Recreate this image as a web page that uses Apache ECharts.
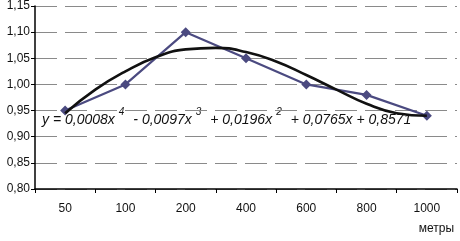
<!DOCTYPE html>
<html>
<head>
<meta charset="utf-8">
<script src="https://cdn.jsdelivr.net/npm/echarts@6/dist/echarts.min.js"></script>
<style>
  html, body { margin: 0; padding: 0; background: #fff; }
  #chart { width: 460px; height: 241px; }
</style>
</head>
<body>
<div id="chart"></div>
<script>
// distances, metres
const categories = ['50', '100', '200', '400', '600', '800', '1000']
// measured values
const values = [0.95, 1.00, 1.10, 1.05, 1.00, 0.98, 0.94]
// polynomial trend at half-category steps (x = 1..7)
const trendX = [1, 1.5, 2, 2.5, 3, 3.5, 4, 4.5, 5, 5.5, 6, 6.5, 7]
const trendY = [0.945, 0.99, 1.025, 1.052, 1.067, 1.07, 1.062, 1.044, 1.018, 0.99, 0.963, 0.945, 0.94]
const yTicks = ['0,80', '0,85', '0,90', '0,95', '1,00', '1,05', '1,10', '1,15']

const chart = echarts.init(document.getElementById('chart'))
const font = '"Liberation Sans", Arial, sans-serif'

chart.setOption({
  animation: false,
  grid: { left: 35, right: 3, top: 5, bottom: 52 },
  xAxis: [
    {
      type: 'category',
      data: categories,
      boundaryGap: true,
      axisLine: { lineStyle: { color: '#000', width: 1.5 } },
      axisTick: { show: true, inside: false, length: 4, lineStyle: { color: '#000' } },
      axisLabel: { color: '#111', fontSize: 12, fontFamily: font, margin: 14 },
      name: 'метры',
      nameLocation: 'end',
      nameGap: 0,
      nameTextStyle: { color: '#111', fontSize: 12, fontFamily: font, align: 'right', verticalAlign: 'top', padding: [34, 3, 0, 0] },
    },
    {
      type: 'value',
      min: 0.5,
      max: 7.5,
      show: false,
    },
  ],
  yAxis: {
    type: 'value',
    min: 0.8,
    max: 1.15,
    interval: 0.05,
    axisLine: { show: true, lineStyle: { color: '#000', width: 1.5 } },
    axisTick: { show: true, length: 4, lineStyle: { color: '#000' } },
    axisLabel: {
      color: '#111', fontSize: 12, fontFamily: font, margin: 5,
      formatter: v => yTicks[Math.round((v - 0.8) / 0.05)],
    },
    splitLine: { lineStyle: { color: '#8a8a8a', width: 1, type: [22, 8] } },
  },
  series: [
    {
      type: 'line',
      data: values,
      symbol: 'diamond',
      symbolSize: 10,
      itemStyle: { color: '#4b4a80' },
      lineStyle: { color: '#4b4a80', width: 2.2 },
      z: 2,
    },
    {
      type: 'line',
      xAxisIndex: 1,
      data: trendX.map((x, i) => [x, trendY[i]]),
      smooth: true,
      symbol: 'none',
      lineStyle: { color: '#111', width: 2.6 },
      z: 3,
    },
  ],
  graphic: [
    {
      type: 'text',
      left: 42,
      top: 107,
      style: {
        text: '{i|y = 0,0008x}{s|4}{i|- 0,0097x}{s|3}{i|+ 0,0196x}{s|2}{i|+ 0,0765x + 0,8571}',
        rich: {
          i: { fontSize: 14, fontStyle: 'italic', fontFamily: font, fill: '#111', lineHeight: 20, verticalAlign: 'bottom' },
          s: { fontSize: 10, fontStyle: 'italic', fontFamily: font, fill: '#111', lineHeight: 20, verticalAlign: 'top', padding: [0, 9, 0, 4] },
        },
      },
    },
  ],
})
</script>
</body>
</html>
